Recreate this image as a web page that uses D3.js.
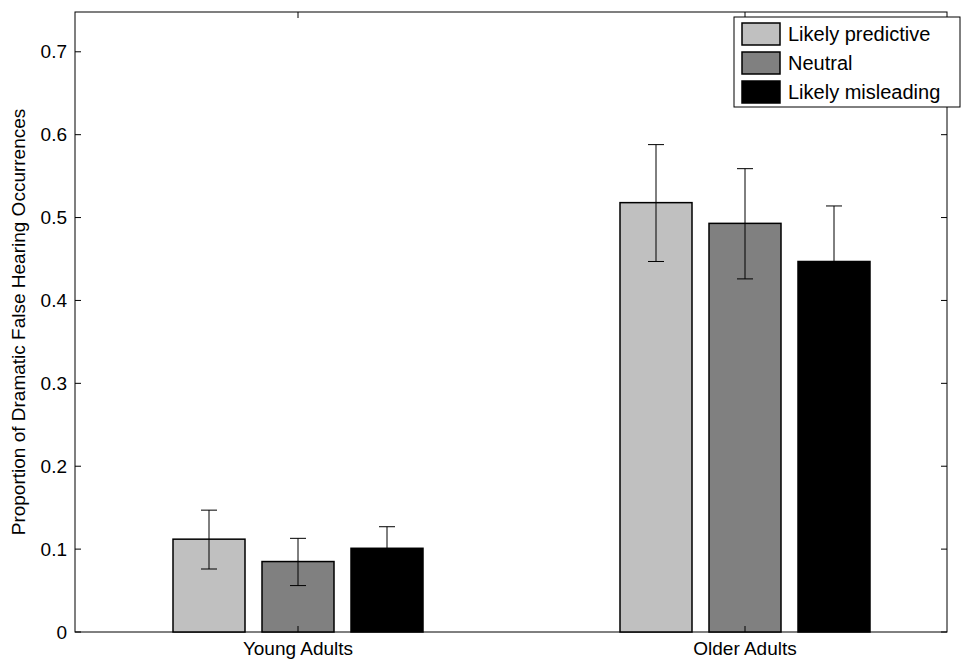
<!DOCTYPE html>
<html><head><meta charset="utf-8">
<script src="https://cdn.jsdelivr.net/npm/d3@7"></script>
<style>body{margin:0;background:#fff}text{font-family:"Liberation Sans",Arial,sans-serif}</style>
</head><body><div id="svg"></div>
<script>
const groups = ["Young Adults", "Older Adults"];
const series = ["Likely predictive", "Neutral", "Likely misleading"];
const colors = ["#c0c0c0", "#808080", "#000000"];
const means = [[0.112, 0.085, 0.101], [0.518, 0.493, 0.447]];
const errLow = [[0.076, 0.056, 0.080], [0.447, 0.426, 0.368]];
const errHigh = [[0.147, 0.113, 0.127], [0.588, 0.559, 0.514]];
const yTicks = [0, 0.1, 0.2, 0.3, 0.4, 0.5, 0.6, 0.7];

const width = 961, height = 661;
const m = {left: 75, right: 14, top: 12, bottom: 29};
const svg = d3.select("#svg").append("svg").attr("width", width).attr("height", height);

const x = d3.scaleLinear().domain([0.5, 2.5]).range([74.5, 968.5]);
const y = d3.scaleLinear().domain([0, 0.748]).range([height - m.bottom, m.top]);
const bw = 72, gap = 89;

const g = svg.append("g");
g.append("rect").attr("x", m.left).attr("y", m.top)
	.attr("width", width - m.left - m.right).attr("height", height - m.top - m.bottom)
	.attr("fill", "none").attr("stroke", "#000");

groups.forEach((grp, gi) => {
	series.forEach((s, si) => {
		const cx = x(gi + 1) + (si - 1) * gap;
		g.append("rect").attr("x", cx - bw / 2).attr("y", y(means[gi][si]))
			.attr("width", bw).attr("height", y(0) - y(means[gi][si]))
			.attr("fill", colors[si]).attr("stroke", "#000").attr("stroke-width", 1.5);
		g.append("line").attr("x1", cx).attr("x2", cx)
			.attr("y1", y(errLow[gi][si])).attr("y2", y(errHigh[gi][si])).attr("stroke", "#000");
		[errLow[gi][si], errHigh[gi][si]].forEach(v => g.append("line")
			.attr("x1", cx - 8).attr("x2", cx + 8).attr("y1", y(v)).attr("y2", y(v)).attr("stroke", "#000"));
	});
	g.append("text").attr("x", x(gi + 1)).attr("y", height - m.bottom + 23)
		.attr("text-anchor", "middle").attr("font-size", 19).text(grp);
	[y(0), m.top].forEach((yy, k) => g.append("line").attr("x1", x(gi + 1)).attr("x2", x(gi + 1))
		.attr("y1", yy).attr("y2", k ? yy + 6 : yy - 6).attr("stroke", "#000"));
});

yTicks.forEach(t => {
	g.append("line").attr("x1", m.left).attr("x2", m.left + 6).attr("y1", y(t)).attr("y2", y(t)).attr("stroke", "#000");
	g.append("line").attr("x1", width - m.right).attr("x2", width - m.right - 6).attr("y1", y(t)).attr("y2", y(t)).attr("stroke", "#000");
	g.append("text").attr("x", m.left - 8).attr("y", y(t)).attr("dy", "0.35em")
		.attr("text-anchor", "end").attr("font-size", 19).text(t === 0 ? "0" : t.toFixed(1));
});

g.append("text").attr("transform", `translate(25,${(m.top + height - m.bottom) / 2}) rotate(-90)`)
	.attr("text-anchor", "middle").attr("font-size", 19).text("Proportion of Dramatic False Hearing Occurrences");

const lg = g.append("g").attr("transform", "translate(734,17)");
lg.append("rect").attr("width", 226).attr("height", 90).attr("fill", "#fff").attr("stroke", "#000");
series.forEach((s, i) => {
	lg.append("rect").attr("x", 8).attr("y", 6 + i * 29).attr("width", 38).attr("height", 22)
		.attr("fill", colors[i]).attr("stroke", "#000").attr("stroke-width", 1.5);
	lg.append("text").attr("x", 54).attr("y", 17 + i * 29).attr("dy", "0.35em")
		.attr("font-size", 20).text(s);
});
</script></body></html>
